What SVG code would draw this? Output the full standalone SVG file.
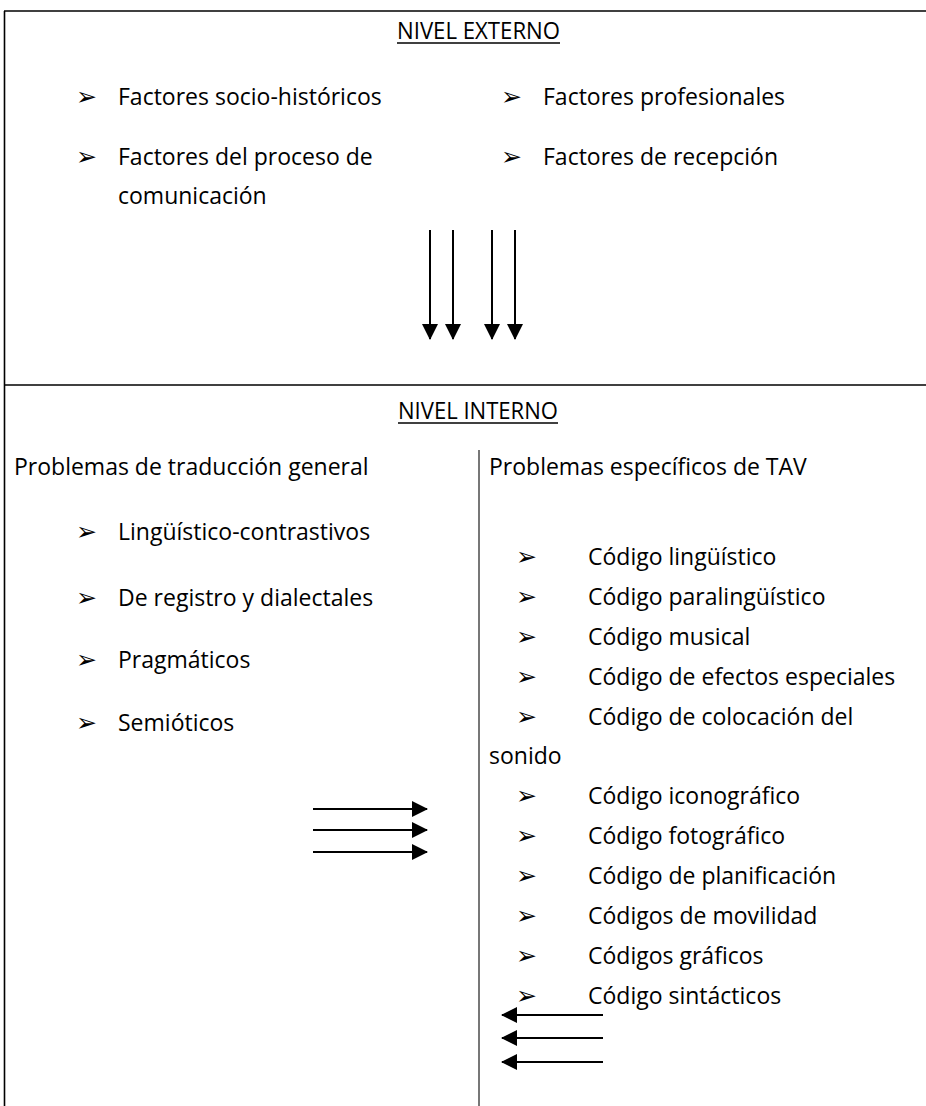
<svg xmlns="http://www.w3.org/2000/svg" width="926" height="1106" viewBox="0 0 926 1106">
<defs>
<style>
.t{font-family:"Open Sans","Noto Sans",sans-serif;font-size:23px;fill:#000}
.h{font-family:"Open Sans","Noto Sans",sans-serif;font-size:23px;fill:#000}
.b{font-family:"DejaVu Sans",sans-serif;font-size:25px;fill:#000}
.frame{stroke:#000;stroke-width:1.6;fill:none}
.div{stroke:#777;stroke-width:2;fill:none}
.arr{stroke:#000;stroke-width:2;fill:none;marker-end:url(#ah)}
.ul{stroke:#000;stroke-width:1.6}
</style>
<marker id="ah" viewBox="0 0 16 16" refX="15" refY="8" markerWidth="16" markerHeight="16" markerUnits="userSpaceOnUse" orient="auto">
<path d="M0,0 L16,8 L0,16 Z" fill="#000"/>
</marker>
</defs>
<rect width="926" height="1106" fill="#fff"/>
<g id="frame">
<line class="frame" x1="4" y1="11" x2="926" y2="11"/>
<line class="frame" x1="4.5" y1="11" x2="4.5" y2="1106"/>
<line class="frame" x1="4" y1="385" x2="926" y2="385"/>
<line class="div" x1="479" y1="450" x2="479" y2="1106"/>
</g>
<g id="nivel-externo">
<text class="h" x="397" y="39" textLength="163" lengthAdjust="spacingAndGlyphs">NIVEL EXTERNO</text>
<line class="ul" x1="397" y1="43" x2="560" y2="43"/>
<text class="b" x="76" y="105">➢</text>
<text class="t" x="118" y="105">Factores socio-históricos</text>
<text class="b" x="501" y="105">➢</text>
<text class="t" x="543" y="105">Factores profesionales</text>
<text class="b" x="76" y="165">➢</text>
<text class="t" x="118" y="165">Factores del proceso de</text>
<text class="t" x="118" y="204">comunicación</text>
<text class="b" x="501" y="165">➢</text>
<text class="t" x="543" y="165">Factores de recepción</text>
</g>
<g id="nivel-interno">
<text class="h" x="398" y="419" textLength="160" lengthAdjust="spacingAndGlyphs">NIVEL INTERNO</text>
<line class="ul" x1="398" y1="423" x2="558" y2="423"/>
</g>
<g id="problemas-generales">
<text class="t" x="14" y="475">Problemas de traducción general</text>
<text class="b" x="76" y="540">➢</text>
<text class="t" x="118" y="540">Lingüístico-contrastivos</text>
<text class="b" x="76" y="606">➢</text>
<text class="t" x="118" y="606">De registro y dialectales</text>
<text class="b" x="76" y="668">➢</text>
<text class="t" x="118" y="668">Pragmáticos</text>
<text class="b" x="76" y="731">➢</text>
<text class="t" x="118" y="731">Semióticos</text>
</g>
<g id="problemas-tav">
<text class="t" x="489" y="475">Problemas específicos de TAV</text>
<text class="b" x="516" y="565">➢</text><text class="t" x="588" y="565">Código lingüístico</text>
<text class="b" x="516" y="605">➢</text><text class="t" x="588" y="605">Código paralingüístico</text>
<text class="b" x="516" y="645">➢</text><text class="t" x="588" y="645">Código musical</text>
<text class="b" x="516" y="685">➢</text><text class="t" x="588" y="685">Código de efectos especiales</text>
<text class="b" x="516" y="725">➢</text><text class="t" x="588" y="725">Código de colocación del</text>
<text class="t" x="489" y="764">sonido</text>
<text class="b" x="516" y="804">➢</text><text class="t" x="588" y="804">Código iconográfico</text>
<text class="b" x="516" y="844">➢</text><text class="t" x="588" y="844">Código fotográfico</text>
<text class="b" x="516" y="884">➢</text><text class="t" x="588" y="884">Código de planificación</text>
<text class="b" x="516" y="924">➢</text><text class="t" x="588" y="924">Códigos de movilidad</text>
<text class="b" x="516" y="964">➢</text><text class="t" x="588" y="964">Códigos gráficos</text>
<text class="b" x="516" y="1004">➢</text><text class="t" x="588" y="1004">Código sintácticos</text>
</g>
<g id="connectors">
<line class="arr" x1="430" y1="230" x2="430" y2="339"/>
<line class="arr" x1="453" y1="230" x2="453" y2="339"/>
<line class="arr" x1="492" y1="230" x2="492" y2="339"/>
<line class="arr" x1="515" y1="230" x2="515" y2="339"/>
<line class="arr" x1="313" y1="809" x2="427" y2="809"/>
<line class="arr" x1="313" y1="830" x2="427" y2="830"/>
<line class="arr" x1="313" y1="852" x2="427" y2="852"/>
<line class="arr" x1="603" y1="1015" x2="502" y2="1015"/>
<line class="arr" x1="603" y1="1038" x2="502" y2="1038"/>
<line class="arr" x1="603" y1="1062" x2="502" y2="1062"/>
</g>
</svg>
